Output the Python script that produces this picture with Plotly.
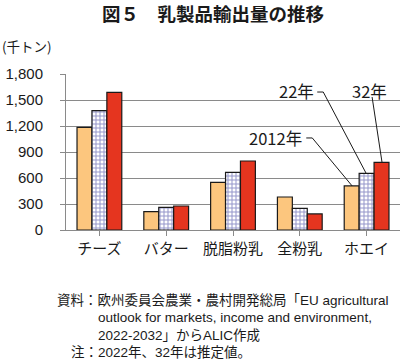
import plotly.graph_objects as go

categories = ["チーズ", "バター", "脱脂粉乳", "全粉乳", "ホエイ"]
series_names = ["2012年", "22年", "32年"]
values_2012 = [1185, 211, 550, 381, 508]
values_2022 = [1377, 262, 666, 250, 654]
values_2032 = [1589, 277, 796, 185, 781]
y_ticks = [0, 300, 600, 900, 1200, 1500, 1800]
y_tick_labels = ["0", "300", "600", "900", "1,200", "1,500", "1,800"]

FONT = "Noto Sans CJK JP"
NOTE_FONT = "Liberation Sans, Noto Sans CJK JP"
x_idx = list(range(len(categories)))

fig = go.Figure()
fig.add_trace(go.Bar(x=x_idx, y=values_2012, name=series_names[0],
                     marker=dict(color="#FCC67E", line=dict(color="#1a1a1a", width=1.2))))
fig.add_trace(go.Bar(x=x_idx, y=values_2022, name=series_names[1],
                     marker=dict(color="#ffffff", line=dict(color="#1a1a1a", width=1.2),
                                 pattern=dict(shape="+", fgcolor="#2B2F95", bgcolor="#ffffff",
                                              size=4, solidity=0.45))))
fig.add_trace(go.Bar(x=x_idx, y=values_2032, name=series_names[2],
                     marker=dict(color="#E5351F", line=dict(color="#1a1a1a", width=1.2))))

W, H = 402, 364
L, R, T, B = 66, 2, 74, 134
fig.update_layout(
    width=W, height=H,
    margin=dict(l=L, r=R, t=T, b=B),
    paper_bgcolor="white", plot_bgcolor="white",
    barmode="group", bargap=0.33, bargroupgap=0,
    showlegend=False,
    font=dict(family=FONT, color="#1a1a1a", size=14),
)
fig.update_xaxes(
    tickmode="array", tickvals=x_idx, ticktext=categories,
    range=[-0.5, 4.5], showgrid=False,
    showline=True, linecolor="#8a8a8a", linewidth=1,
    ticks="outside", tickson="boundaries", ticklen=5, tickcolor="#8a8a8a",
    tickfont=dict(family=FONT, size=15, color="#1a1a1a"),
)
fig.update_yaxes(
    range=[0, 1800], tickmode="array", tickvals=y_ticks, ticktext=y_tick_labels,
    showgrid=True, gridcolor="#8a8a8a", gridwidth=1,
    showline=True, linecolor="#8a8a8a", linewidth=1,
    ticks="outside", ticklen=5, tickcolor="#8a8a8a",
    ticklabelstandoff=14,
    tickfont=dict(family="Liberation Sans", size=15, color="#1a1a1a"),
    zeroline=False,
)

# Leader lines (data coordinates)
line_style = dict(color="#1a1a1a", width=1)
fig.add_shape(type="path", xref="x", yref="y",
              path="M 3.097 1062 L 3.187 1062 L 3.784 %d" % values_2012[4], line=line_style)
fig.add_shape(type="path", xref="x", yref="y",
              path="M 3.261 1592 L 3.351 1592 L 3.993 %d" % values_2022[4], line=line_style)
fig.add_shape(type="path", xref="x", yref="y",
              path="M 4.082 1535 L 4.231 %d" % values_2032[4], line=line_style)

label_font = dict(family=FONT, size=16.5, color="#1a1a1a")
fig.add_annotation(x=3.07, y=1062, xref="x", yref="y", text="2012年", showarrow=False,
                   xanchor="right", yanchor="middle", font=label_font)
fig.add_annotation(x=3.24, y=1600, xref="x", yref="y", text="22年", showarrow=False,
                   xanchor="right", yanchor="middle", font=label_font)
fig.add_annotation(x=4.045, y=1600, xref="x", yref="y", text="32年", showarrow=False,
                   xanchor="center", yanchor="middle", font=label_font)

pw, ph = W - L - R, H - T - B


def px_to_paper(px, py):
    return (px - L) / pw, ((H - py) - B) / ph


# Title and unit
tx, ty = px_to_paper(213, 13)
fig.add_annotation(x=tx, y=ty, xref="paper", yref="paper", text="<b>図５　乳製品輸出量の推移</b>",
                   showarrow=False, xanchor="center", yanchor="middle",
                   font=dict(family=FONT, size=18.5, color="#1a1a1a"))
ux, uy = px_to_paper(0, 46)
fig.add_annotation(x=ux, y=uy, xref="paper", yref="paper", text="(千トン)", showarrow=False,
                   xanchor="left", yanchor="middle",
                   font=dict(family=FONT, size=13.5, color="#1a1a1a"))

# Footnotes
notes = [
    (55, 300, "資料：欧州委員会農業・農村開発総局「EU agricultural"),
    (96, 317.5, "outlook for markets, income and environment,"),
    (96, 335, "2022-2032」からALIC作成"),
    (69, 352.5, "注：2022年、32年は推定値。"),
]
for nx_px, ny_px, txt in notes:
    nx, ny = px_to_paper(nx_px, ny_px)
    fig.add_annotation(x=nx, y=ny, xref="paper", yref="paper", text=txt, showarrow=False,
                       xanchor="left", yanchor="middle", align="left",
                       font=dict(family=NOTE_FONT, size=13.5, color="#1a1a1a"))

fig.write_html("out.html", config={"displayModeBar": False},
               post_script="document.body.style.margin='0px';")
